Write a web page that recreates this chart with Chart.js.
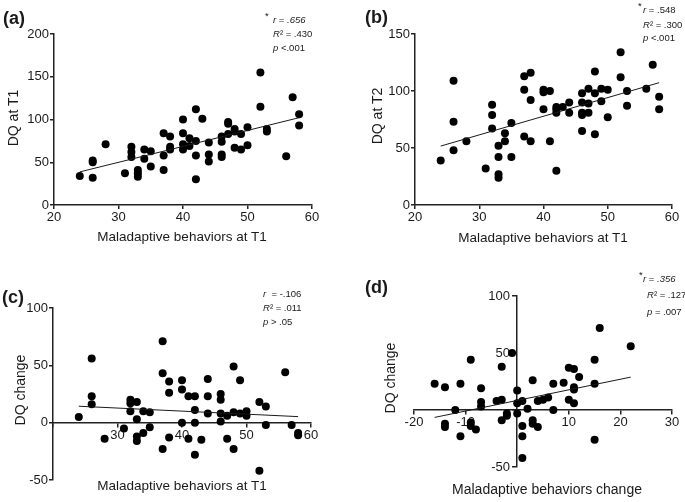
<!DOCTYPE html>
<html>
<head>
<meta charset="utf-8">
<script src="https://cdn.jsdelivr.net/npm/chart.js@4"></script>
<style>
body { margin: 0; background: #fff; font-family: "Liberation Sans", Arial, sans-serif; color: #1a1a1a; }
#wrap { position: relative; width: 685px; height: 502px; overflow: hidden; }
canvas { position: absolute; }
.lab { position: absolute; font-weight: bold; font-size: 18px; transform: translateY(-50%); }
.st { position: absolute; font-size: 9.5px; white-space: nowrap; transform: translateY(-50%); }
.st i { font-style: italic; }
.xt { position: absolute; font-size: 13.5px; white-space: nowrap; transform: translate(-50%, -50%); }
.yt { position: absolute; font-size: 14px; white-space: nowrap; transform: translate(-50%, -50%) rotate(-90deg); }
</style>
</head>
<body>
<div id="wrap">
  <canvas id="ca" width="340" height="250" style="left:0;top:0"></canvas>
  <canvas id="cb" width="345" height="250" style="left:340px;top:0"></canvas>
  <canvas id="cc" width="340" height="252" style="left:0;top:250px"></canvas>
  <canvas id="cd" width="345" height="252" style="left:340px;top:250px"></canvas>

  <div class="lab" style="left:3px;top:18px">(a)</div>
  <div class="lab" style="left:365px;top:17px">(b)</div>
  <div class="lab" style="left:2px;top:297px">(c)</div>
  <div class="lab" style="left:365px;top:287px">(d)</div>

  <div class="st" style="left:265px;top:15px">*</div>
  <div class="st" style="left:273px;top:19px"><i>r</i> = <i>.656</i></div>
  <div class="st" style="left:273px;top:33px"><i>R</i>² = .430</div>
  <div class="st" style="left:273px;top:47px"><i>p</i> &lt;.001</div>

  <div class="st" style="left:638px;top:5px">*</div>
  <div class="st" style="left:643px;top:9px"><i>r</i> = .548</div>
  <div class="st" style="left:643px;top:24px"><i>R</i>² = .300</div>
  <div class="st" style="left:643px;top:37px"><i>p</i> &lt;.001</div>

  <div class="st" style="left:263px;top:293px"><i>r</i> &nbsp;= -.106</div>
  <div class="st" style="left:263px;top:307px"><i>R</i>² = .011</div>
  <div class="st" style="left:263px;top:321px"><i>p</i> &gt; .05</div>

  <div class="st" style="left:639px;top:274px">*</div>
  <div class="st" style="left:643px;top:278px"><i>r</i> = <i>.356</i></div>
  <div class="st" style="left:647px;top:294px"><i>R</i>² = .127</div>
  <div class="st" style="left:647px;top:311px"><i>p</i> = .007</div>

  <div class="xt" style="left:182px;top:236px">Maladaptive behaviors at T1</div>
  <div class="yt" style="left:13px;top:118px">DQ at T1</div>
  <div class="xt" style="left:543px;top:237px">Maladaptive behaviors at T1</div>
  <div class="yt" style="left:377px;top:116px">DQ at T2</div>
  <div class="xt" style="left:182px;top:485px">Maladaptive behaviors at T1</div>
  <div class="yt" style="left:20px;top:390px">DQ change</div>
  <div class="xt" style="left:547px;top:489px;font-size:14px">Maladaptive behaviors change</div>
  <div class="yt" style="left:390px;top:378px">DQ change</div>
</div>
<script>
// (a) DQ at T1 vs maladaptive behaviors at T1
var aX = [24,26,26,26,28,31,32,32,32,33,33,33,34,34,35,35,37,37,37,38,38,38,40,40,40,40,41,41,42,42,42,42,43,44,44,44,46,46,46,46,47,47,47,48,48,48,49,49,50,50,52,52,53,53,56,57,58,58];
var aY = [34,52,50,32,71,37,68,62,56,41,37,33,65,54,63,45,84,58,41,80,68,65,100,84,71,65,78,69,112,75,58,30,101,73,59,51,80,74,59,56,97,95,83,89,86,67,83,65,91,70,155,115,89,86,57,126,106,93];

// (b) DQ at T2 vs maladaptive behaviors at T1
var bX = [24,26,26,26,28,31,32,32,32,33,33,33,33,34,34,35,35,37,37,37,38,38,38,40,40,40,41,41,42,42,42,42,43,44,44,46,46,46,46,46,47,47,47,48,48,48,49,49,50,50,52,52,53,53,56,57,58,58];
var bY = [39,109,73,48,56,32,88,79,67,52,42,27,24,63,56,72,42,113,101,60,116,92,56,101,99,84,100,56,86,84,81,30,86,90,81,98,90,81,79,65,102,89,81,117,98,62,102,91,101,77,134,112,100,87,102,123,95,84];

// (c) DQ change vs maladaptive behaviors at T1
var cX = [24,26,26,26,28,31,32,32,32,33,33,33,33,34,34,35,35,37,37,37,38,38,38,40,40,40,41,41,42,42,42,42,43,44,44,44,46,46,46,46,47,47,48,48,48,49,49,50,50,52,52,53,53,56,57,58,58];
var cY = [5,56,23,16,-14,-5,20,17,10,18,3,-12,-16,10,-9,9,-4,71,43,-23,36,26,-13,37,29,0,23,-14,23,11,0,-28,-15,38,23,8,25,20,8,1,6,-14,49,9,-23,37,8,10,6,18,-42,14,-2,44,-2,-9,-11];

// (d) DQ change vs maladaptive behaviors change
var dX = [-16,-14,-14,-14,-12,-11,-11,-9,-9,-9,-8,-7,-7,-7,-4,-3,-3,-3,-2,-2,-1,0,0,0,1,1,1,1,2,3,3,3,4,4,5,6,7,7,9,10,10,11,11,11,11,12,15,15,15,16,22];
var dY = [23,20,-12,-15,0,23,-23,44,-11,-14,-17,19,7,3,8,38,9,-9,-3,-5,50,17,6,-3,8,-14,-23,-42,1,26,-9,-12,8,-15,9,11,23,0,24,37,9,36,20,18,6,29,44,23,-26,72,56];

function fitLine(xs, ys) {
    var n = xs.length;
    var mx = xs.reduce((a, v) => a + v, 0) / n;
    var my = ys.reduce((a, v) => a + v, 0) / n;
    var sxy = 0, sxx = 0;
    for (let i = 0; i < n; i++) {
        sxy += (xs[i] - mx) * (ys[i] - my);
        sxx += (xs[i] - mx) * (xs[i] - mx);
    }
    var b = sxy / sxx, a = my - b * mx;
    var x0 = Math.min(...xs), x1 = Math.max(...xs);
    return [{x: x0, y: a + b * x0}, {x: x1, y: a + b * x1}];
}

// size: space the axis takes at the edge (0 for axes placed at a value)
function axis(min, max, step, pos, hide, size, pad) {
    return {
        type: 'linear', position: pos, min: min, max: max,
        ticks: {
            stepSize: step, color: '#1a1a1a', padding: 1, maxRotation: 0, autoSkip: false,
            font: {family: 'Liberation Sans', size: 13},
            callback: v => hide.includes(v) ? '' : String(v) + (pad || '')
        },
        grid: {drawOnChartArea: false, drawTicks: true, tickLength: 4, color: '#222', lineWidth: 1.5},
        border: {display: true, color: '#222', width: 1.5},
        afterFit: function(s) {
            if (s.isHorizontal()) { s.height = size; } else { s.width = size; }
        }
    };
}

function panel(id, xs, ys, xAxis, yAxis, pad) {
    new Chart(document.getElementById(id), {
        type: 'scatter',
        data: {
            datasets: [
                {type: 'line', data: fitLine(xs, ys), borderColor: '#1a1a1a', borderWidth: 1, pointRadius: 0, order: 0},
                {data: xs.map((x, i) => ({x: x, y: ys[i]})), backgroundColor: '#000', borderWidth: 0, pointRadius: 4, order: 1}
            ]
        },
        options: {
            responsive: false, animation: false, devicePixelRatio: 1,
            layout: {padding: pad},
            plugins: {legend: {display: false}, tooltip: {enabled: false}},
            scales: {x: xAxis, y: yAxis}
        }
    });
}

panel('ca', aX, aY, axis(20, 60, 10, 'bottom', [], 45), axis(0, 200, 50, 'left', [], 54),
      {left: 0, top: 34, right: 28, bottom: 0});
panel('cb', bX, bY, axis(20, 60, 10, 'bottom', [], 45), axis(0, 150, 50, 'left', [], 75),
      {left: 0, top: 34, right: 13, bottom: 0});
panel('cc', cX, cY, axis(20, 60, 10, {y: 0}, [20], 0), axis(-50, 100, 50, 'left', [], 53),
      {left: 0, top: 58, right: 29, bottom: 22});
panel('cd', dX, dY, axis(-20, 30, 10, {y: 0}, [0], 0), axis(-50, 100, 50, {x: 0}, [0], 0, '  '),
      {left: 74, top: 46, right: 13, bottom: 35});
</script>
</body>
</html>
